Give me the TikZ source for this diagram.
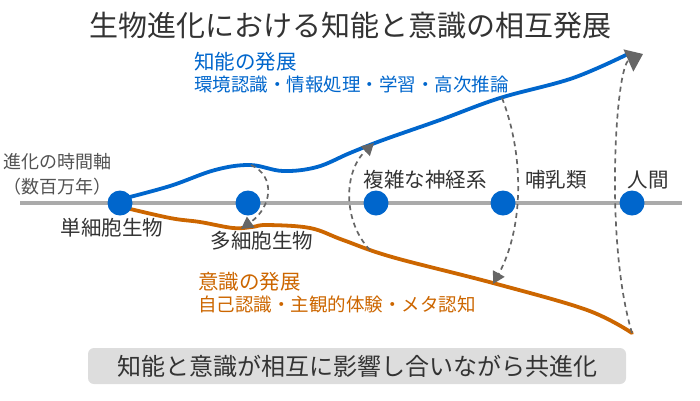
\documentclass[tikz,border=0pt]{standalone}
\usepackage{fontspec}
\setmainfont{Noto Sans CJK JP}
\usetikzlibrary{arrows.meta}
\definecolor{cblue}{HTML}{0066CC}
\definecolor{corange}{HTML}{CC6600}
\definecolor{ctext}{HTML}{333333}
\definecolor{caxis}{HTML}{AAAAAA}
\definecolor{cdash}{HTML}{666666}
\definecolor{cbox}{HTML}{DDDDDD}
\begin{document}
\begin{tikzpicture}[x=1pt,y=-1pt,
  stage/.style={circle,fill=cblue,minimum size=25pt,inner sep=0pt},
  lbl/.style={text=ctext,font=\fontsize{20.5}{24}\selectfont,inner sep=0pt},
  axislbl/.style={text=ctext!85,font=\fontsize{18}{22}\selectfont,inner sep=0pt,anchor=west},
  headblue/.style={text=cblue,font=\fontsize{20.5}{24}\selectfont,inner sep=0pt,anchor=west},
  subblue/.style={text=cblue,font=\fontsize{18.5}{22}\selectfont,inner sep=0pt,anchor=west},
  headorange/.style={text=corange,font=\fontsize{20.5}{24}\selectfont,inner sep=0pt,anchor=west},
  suborange/.style={text=corange,font=\fontsize{18.5}{22}\selectfont,inner sep=0pt,anchor=west},
  trend/.style={line width=3.8pt,line cap=round},
  flow/.style={draw=cdash,line width=1.7pt,dash pattern=on 5pt off 4pt,
    -{Triangle[length=12pt,width=13pt,fill=cdash]}},
  bigflow/.style={draw=cdash,line width=1.7pt,dash pattern=on 5pt off 4pt,
    -{Triangle[length=16pt,width=24pt,fill=cdash]}},
  summary/.style={fill=cbox,rounded corners=6pt,minimum width=538pt,minimum height=36pt,
    text=ctext,font=\fontsize{24}{28}\selectfont,inner sep=0pt}
]
\path[use as bounding box] (0,0) rectangle (700,400);

% title
\node[text=ctext,font=\fontsize{29}{33}\selectfont,inner sep=0pt] (title) at (350,26) {生物進化における知能と意識の相互発展};

% timeline
\coordinate (tl0) at (20,203);
\coordinate (tl1) at (682,203);
\draw[caxis,line width=3.5pt] (tl0) -- (tl1);
\node[axislbl] (ax1) at (3,162) {進化の時間軸};
\node[axislbl] (ax2) at (3,187) {（数百万年）};

% trends
\draw[cblue,trend] plot[smooth,tension=0.6] coordinates {(122,199) (170,186) (215,170) (250,165) (283,171) (317,167) (350,153) (383,140) (440,120) (500,98) (573,78) (630,53)};
\draw[corange,trend] plot[smooth,tension=0.6] coordinates {(122,207) (170,218) (200,222) (233,228) (252,227) (267,225) (310,228) (343,240) (392,257) (493,283) (587,310) (632,333)};

% stages
\node[stage] (s1) at (120,203) {};
\node[stage] (s2) at (248,203) {};
\node[stage] (s3) at (376,203) {};
\node[stage] (s4) at (503,203) {};
\node[stage] (s5) at (632,203) {};

\node[lbl] (l1) at (112,228) {単細胞生物};
\node[lbl] (l2) at (262,241) {多細胞生物};
\node[lbl] (l3) at (425,180) {複雑な神経系};
\node[lbl] (l4) at (556,180) {哺乳類};
\node[lbl] (l5) at (648,180) {人間};

% trend labels
\node[headblue] (kh) at (194,62) {知能の発展};
\node[subblue] (ks) at (194,84) {環境認識・情報処理・学習・高次推論};
\node[headorange] (ch) at (198,282) {意識の発展};
\node[suborange] (cs) at (198,304) {自己認識・主観的体験・メタ認知};

% interaction arrows
\coordinate (b1) at (251,165);
\coordinate (o1) at (241,229);
\coordinate (o2) at (370,250);
\coordinate (b2) at (374,143);
\coordinate (b3) at (502,98);
\coordinate (o3) at (493,284);
\coordinate (o4) at (632,333);
\coordinate (b4) at (643,54);
\draw[flow] (b1) .. controls (276,176) and (272,207) .. (o1);
\draw[flow] (o2) .. controls (343,222) and (343,172) .. (b2);
\draw[flow] (b3) .. controls (526,160) and (522,232) .. (o3);
\draw[bigflow] (o4) .. controls (604,240) and (616,66) .. (b4);

% summary
\node[summary] (sum) at (357,366) {知能と意識が相互に影響し合いながら共進化};
\end{tikzpicture}
\end{document}
